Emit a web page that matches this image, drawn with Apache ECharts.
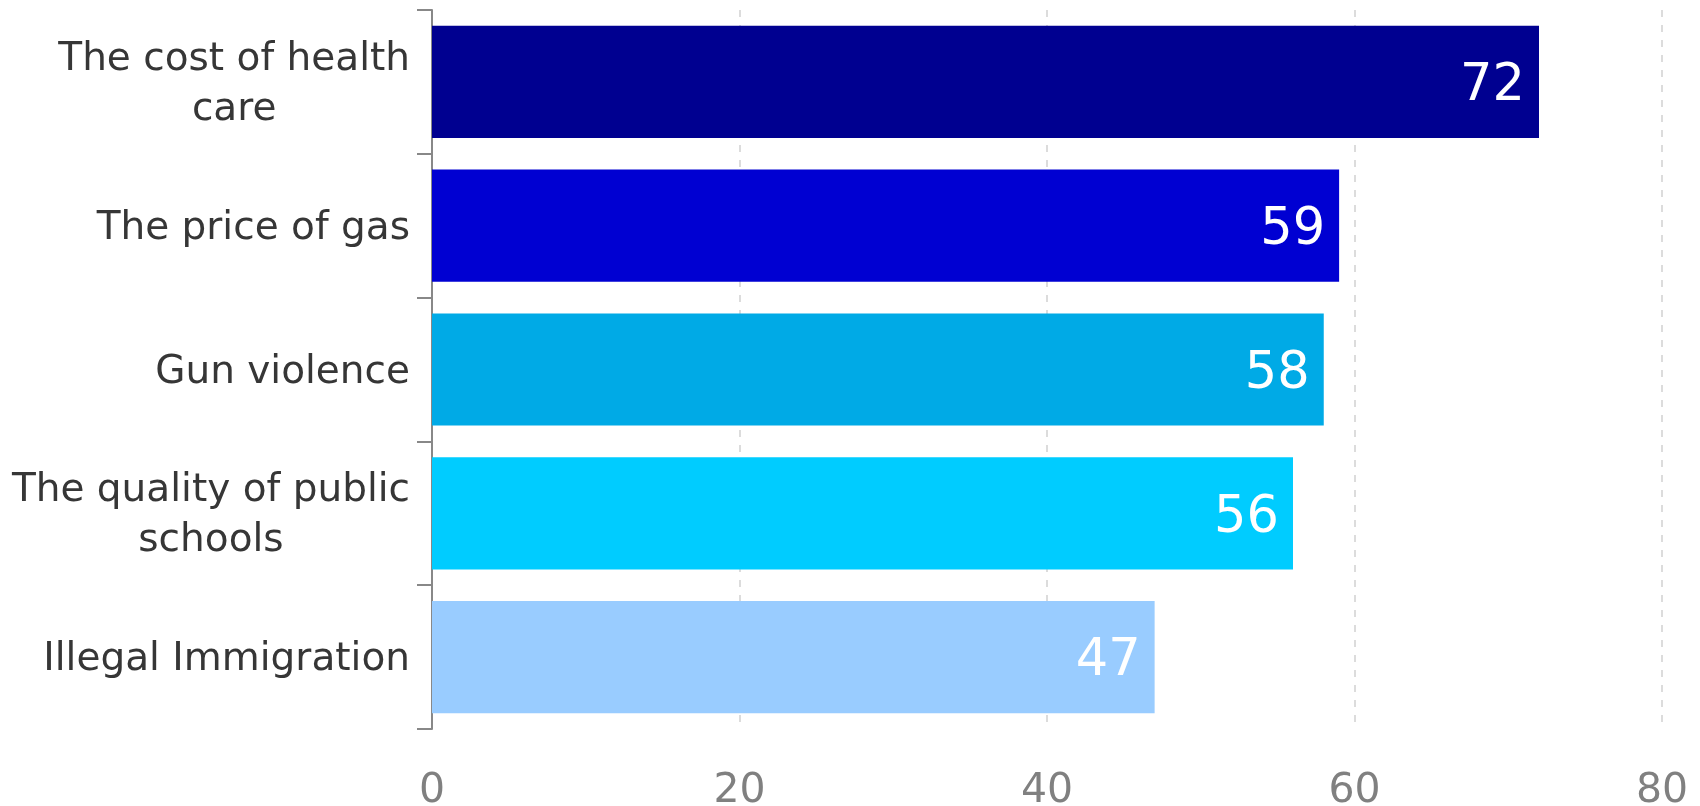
<!DOCTYPE html>
<html>
<head>
<meta charset="utf-8">
<script src="https://cdn.jsdelivr.net/npm/echarts@6/dist/echarts.min.js"></script>
<style>
  html, body { margin: 0; padding: 0; background: #fff; }
  #chart { width: 1700px; height: 806px; }
</style>
</head>
<body>
<div id="chart"></div>
<script>
// ---- data ----
const categories = [
  'The cost of health\ncare',
  'The price of gas',
  'Gun violence',
  'The quality of public\nschools',
  'Illegal Immigration'
];
const values = [72, 59, 58, 56, 47];
const barColors = ['#000090', '#0000D2', '#00AAE6', '#00CCFF', '#99CCFF'];
const xTicks = { min: 0, max: 80, interval: 20 };

const FONT = 'DejaVu Sans';

const chart = echarts.init(document.getElementById('chart'), null, { renderer: 'canvas' });

chart.setOption({
  animation: false,
  backgroundColor: '#ffffff',
  grid: { left: 432, right: 38, top: 10, bottom: 77, containLabel: false, outerBoundsMode: 'none' },
  xAxis: {
    type: 'value',
    min: xTicks.min,
    max: xTicks.max,
    interval: xTicks.interval,
    axisLine: { show: false },
    axisTick: { show: false },
    axisLabel: {
      color: '#808080',
      fontSize: 41,
      fontFamily: FONT,
      margin: 42
    },
    splitLine: {
      show: true,
      lineStyle: { color: '#dcdcdc', width: 2, type: [7, 8] }
    }
  },
  yAxis: {
    type: 'category',
    data: categories,
    inverse: true,
    axisLine: { show: true, lineStyle: { color: '#888888', width: 2 } },
    axisTick: { show: true, length: 15, lineStyle: { color: '#888888', width: 2 } },
    axisLabel: {
      margin: 22,
      align: 'right',
      fontFamily: FONT,
      fontSize: 39,
      color: '#363636',
      padding: [6, 0, 0, 0],
      formatter: function (v) {
        return v.split('\n').map(function (s) { return '{c|' + s + '}'; }).join('\n');
      },
      rich: {
        c: {
          align: 'center',
          fontFamily: FONT,
          fontSize: 39,
          lineHeight: 50,
          color: '#363636'
        }
      }
    },
    splitLine: { show: false }
  },
  series: [{
    type: 'bar',
    barWidth: '78%',
    data: values.map(function (v, i) {
      return { value: v, itemStyle: { color: barColors[i] } };
    }),
    label: {
      show: true,
      position: 'insideRight',
      distance: 14,
      offset: [0, 5],
      color: '#ffffff',
      fontFamily: FONT,
      fontSize: 51
    }
  }]
});
</script>
</body>
</html>
